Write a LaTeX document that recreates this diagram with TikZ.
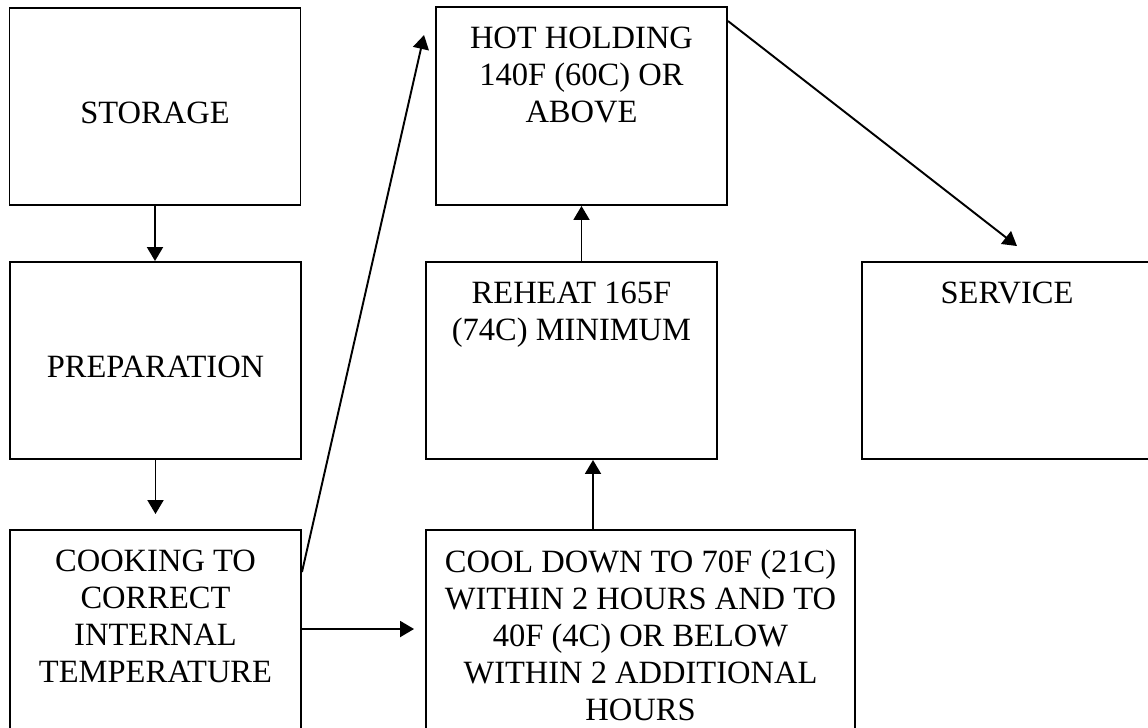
\documentclass[tikz,border=0pt]{standalone}
\usepackage{fontspec}
\setmainfont{Liberation Serif}
\usepackage{tikz}
\usetikzlibrary{arrows.meta, positioning, calc}

\begin{document}
\begin{tikzpicture}[
    stagebox/.style={draw, line width=1.1pt, rectangle, minimum width=5.82cm, minimum height=3.94cm, inner xsep=0.1cm, inner ysep=0.4cm, align=center, font=\fontsize{18.5}{21}\selectfont},
    flow/.style={-{Triangle[length=0.28cm, width=0.32cm]}, line width=1.1pt}
  ]
  \useasboundingbox (0,0) rectangle (22.96,-14.54);
  \clip (0,0) rectangle (22.96,-14.54);
  \fill[white] (0,0) rectangle (22.96,-14.54);

  % Left column
  \node[stagebox, text height=0.67cm, text depth=0pt] (storage) at (3.10, -2.13) {STORAGE};
  \node[stagebox, text height=0.67cm, text depth=0pt] (prep) at (3.11, -7.21) {PREPARATION};
  \node[stagebox, minimum height=4.8cm] (cook) at (3.11, -13.0) {\parbox[t][4.0cm][t]{5.4cm}{\centering COOKING TO\\CORRECT\\INTERNAL\\TEMPERATURE}};

  % Middle column
  \node[stagebox, minimum height=4.8cm, minimum width=8.58cm] (cool) at (12.81, -13.0) {\parbox[t][4.0cm][t]{8.3cm}{\centering COOL DOWN TO 70F (21C)\\WITHIN 2 HOURS AND TO\\40F (4C) OR BELOW\\WITHIN 2 ADDITIONAL\\HOURS}};
  \node[stagebox] (reheat) at (11.43, -7.21) {\parbox[t][3.14cm][t]{5.4cm}{\centering REHEAT 165F\\(74C) MINIMUM}};
  \node[stagebox, minimum height=3.96cm] (hot) at (11.63, -2.12) {\parbox[t][3.16cm][t]{5.4cm}{\centering HOT HOLDING\\140F (60C) OR\\ABOVE}};

  % Right column
  \node[stagebox, minimum width=5.8cm] (service) at (20.14, -7.21) {\parbox[t][3.14cm][t]{5.4cm}{\centering SERVICE}};

  % Flow
  \draw[flow] (storage) -- (storage |- prep.north);
  \draw[flow, shorten >=0.3cm] (prep) -- (prep |- cook.north);
  \draw[flow, shorten >=0.22cm] ([yshift=0.42cm]cook.east) -- ([yshift=0.42cm]cook.east -| cool.west);
  \draw[flow] ([xshift=-0.95cm]cool.north) -- ([xshift=-0.95cm]cool.north |- reheat.south);
  \draw[flow] (reheat.north -| hot.south) -- (hot.south);
  \draw[flow] ([yshift=-0.86cm]cook.north east) -- ([shift={(-0.22cm,-0.58cm)}]hot.north west);
  \draw[flow] ([yshift=-0.3cm]hot.north east) -- ([shift={(0.2cm,0.3cm)}]service.north);
\end{tikzpicture}
\end{document}
